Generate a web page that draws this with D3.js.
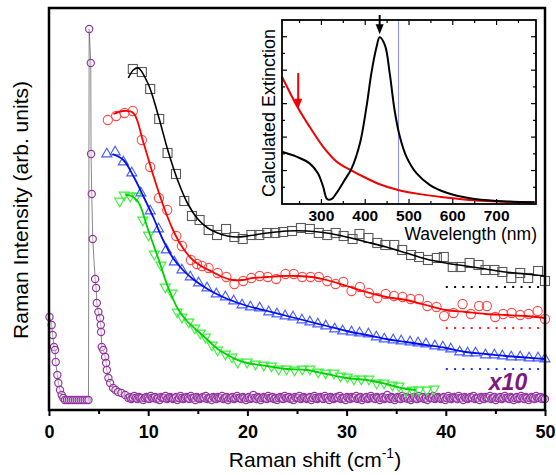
<!DOCTYPE html>
<html>
<head>
<meta charset="utf-8">
<script src="https://cdn.jsdelivr.net/npm/d3@7"></script>
<style>
body { margin: 0; background: #fff; }
svg { display: block; font-family: Arial, "Liberation Sans", sans-serif; }
</style>
</head>
<body>
<svg id="chart"></svg>
<script>
// main panel: Raman shift (cm-1) vs intensity (arb. units)
const xTicks = [0, 10, 20, 30, 40, 50];
const xMinorTicks = [5, 15, 25, 35, 45];

const blackX = [8.45, 9.36, 10.2, 11.11, 11.95, 12.8, 13.64, 14.41, 15.18, 16.09, 16.94, 17.85, 18.69, 19.53, 20.4, 21.2, 22.0, 22.8, 23.6, 24.5, 25.4, 26.3, 27.2, 28.05, 28.9, 29.7, 30.6, 31.3, 32.2, 33.1, 33.9, 34.8, 35.6, 36.5, 37.3, 38.2, 39.1, 39.8, 40.7, 41.5, 42.4, 43.3, 44.0, 44.9, 45.7, 46.6, 47.5, 48.3, 49.3, 50.0];
const blackY = [341, 338, 321, 291, 257, 236, 209, 194, 190, 180, 175, 181, 173, 171, 175, 175, 177, 177, 178, 179, 182, 181, 177, 175, 177, 174, 171, 176, 172, 167, 165, 165, 160, 155, 153, 150, 152, 153, 143, 143, 147, 145, 140, 140, 138, 132, 137, 132, 139, 129];
const blackFitX = [8.0, 8.5, 9.0, 10, 11, 12, 13, 14, 15, 16, 17, 18, 19, 20, 22, 24, 26, 28, 30, 32, 34, 36, 38, 40, 42, 44, 46, 48, 50];
const blackFitY = [332, 340, 342, 326, 295, 259, 229, 206, 191, 182, 177, 174, 173, 174, 177, 179, 179, 177, 173, 168, 163, 157, 151, 147, 144, 141, 138, 136, 134];

const redX = [5.93, 6.77, 7.61, 8.45, 9.36, 10.2, 11.08, 11.92, 12.83, 13.4, 14.31, 14.92, 15.42, 16.09, 17.0, 17.88, 18.69, 19.57, 20.4, 21.24, 22.05, 22.9, 23.84, 24.68, 25.52, 26.36, 27.2, 28.05, 28.89, 29.67, 30.5, 31.34, 32.25, 33.1, 33.94, 34.78, 35.63, 36.46, 37.3, 38.15, 39.06, 39.83, 40.78, 41.69, 42.53, 43.36, 44.14, 44.98, 45.79, 46.64, 47.5, 48.35, 49.26, 50.0];
const redY = [290, 294, 297, 299, 270, 243, 212, 200, 174, 164, 150, 146, 144, 142, 137, 133, 126, 129, 132, 134, 133, 131, 136, 136, 133, 133, 133, 129, 126, 128, 119, 123, 117, 112, 116, 114, 113, 111, 111, 104, 103, 94, 97, 106, 96, 104, 104, 93, 96, 97, 95, 96, 99, 91];
const redFitX = [6.5, 7.5, 8.5, 9.5, 10.5, 11.5, 12.5, 13.5, 14.5, 15.5, 16.5, 17.5, 18.5, 19.5, 20.5, 22, 23.5, 25, 26.5, 28, 30, 32, 34, 36, 38, 40, 42, 44, 46, 48, 50];
const redFitY = [296, 299, 297, 268, 235, 205, 180, 162, 150, 143, 138, 133, 130, 130, 132, 133, 134, 134, 133, 130, 124, 118, 113, 110, 105, 100, 98, 96, 95, 94, 92];

const blueX = [5.83, 6.67, 7.5, 8.35, 9.26, 10.2, 11.04, 11.82, 12.63, 13.4, 14.24, 15.08, 15.93, 16.87, 17.78, 18.62, 19.46, 20.3, 21.24, 22.15, 22.98, 23.8, 24.6, 25.5, 26.3, 27.1, 27.9, 28.8, 29.6, 30.5, 31.3, 32.2, 33.0, 33.8, 34.7, 35.5, 36.4, 37.2, 38.0, 38.9, 39.7, 40.5, 41.4, 42.2, 43.0, 44.0, 44.9, 45.7, 46.6, 47.5, 48.4, 49.3, 50.0];
const blueY = [256, 258, 248, 237, 217, 199, 181, 160, 148, 140, 133, 127, 122, 116, 113, 109, 105, 103, 102, 98, 96, 94, 93, 90, 88, 86, 84, 81, 79, 78, 77, 76, 73, 71, 70, 69, 68, 67, 66, 64, 63, 61, 58, 57, 57, 55, 55, 54, 53, 53, 52, 52, 51];
const blueFitX = [6.4, 7.5, 8.5, 9.5, 10.5, 11.5, 12.5, 13.5, 14.5, 15.5, 16.5, 18, 20, 22, 24, 26, 28, 30, 32, 34, 36, 38, 40, 42, 44, 46, 48, 50];
const blueFitY = [256, 250, 234, 214, 193, 170, 152, 140, 131, 124, 118, 111, 104, 99, 94, 89, 84, 79, 75, 71, 68, 65, 62, 58, 56, 54, 52.5, 51];

const greenX = [7.12, 7.58, 8.18, 8.79, 9.46, 10.03, 10.61, 11.28, 11.72, 12.39, 12.93, 13.4, 14.09, 14.7, 15.25, 15.76, 16.43, 17.0, 17.78, 18.45, 19.02, 19.97, 20.81, 21.65, 22.42, 23.16, 23.94, 24.75, 25.53, 26.29, 27.14, 27.88, 28.72, 29.39, 30.07, 30.74, 31.48, 32.25, 33.03, 33.77, 34.62, 35.28, 35.96, 36.64, 37.3, 38.08, 38.82];
const greenY = [209, 215, 214, 214, 190, 175, 156, 145, 123, 117, 98, 93, 88, 82, 77, 73, 65, 60, 56, 53, 48, 48, 46, 45, 44, 41, 41, 40, 41, 41, 38, 37, 37, 34, 33, 31, 31, 31, 27, 27, 25, 24, 19, 20, 20, 20, 21];
const greenFitX = [7.7, 8.3, 9, 10, 11, 12, 13, 14, 15, 16, 17, 18, 19, 20, 22, 24, 26, 28, 30, 32, 34, 36, 37];
const greenFitY = [215, 214, 208, 180, 152, 123, 101, 88, 79, 70, 61, 55, 50, 47, 44, 41, 40, 36, 32, 30, 26, 21, 20];

// x10 spectrum: laser line region, then the flat tail (spectrometer step 0.15 cm-1)
const purpleX = [0.05, 0.27, 0.37, 0.51, 0.61, 0.68, 0.84, 0.94, 1.11, 1.28, 1.44, 1.6, 1.8, 2.0, 2.2, 2.4, 2.6, 2.8, 3.0, 3.2, 3.4, 3.6, 3.8, 3.98, 4.05, 4.21, 4.24, 4.31, 4.41, 4.65, 4.75, 4.82, 4.98, 5.15, 5.22, 5.25, 5.32, 5.48, 5.66, 5.76, 5.83, 5.99, 6.16, 6.46, 6.7, 6.97, 7.3, 7.68];
const purpleY = [93, 85, 75, 63, 60, 48, 35, 27, 20, 15, 12, 10, 10, 10, 10, 10, 10, 10, 10, 10, 10, 10, 10, 10, 381, 347, 256, 216, 171, 131, 122, 107, 98, 92, 85, 78, 63, 60, 53, 47, 40, 32, 27, 22, 20, 18, 17, 15];
const purpleTailY = [
  12,13,11,12,14,12,11,13,12,12,10,12,13,12,11,14,12,12,13,11,
  12,10,13,12,12,14,11,12,13,12,11,12,13,10,12,14,12,11,12,13,
  12,11,14,12,12,10,13,12,11,12,13,12,14,11,12,12,10,13,12,11,
  13,12,12,14,11,12,13,10,12,12,13,11,12,14,12,12,11,13,12,10,
  12,13,11,12,15,12,11,13,12,10,12,13,12,11,14,12,12,13,11,12,
  10,12,13,12,11,14,12,12,13,11,12,10,13,12,12,14,11,12,13,12,
  11,12,13,10,12,14,12,11,12,13,12,11,14,12,12,10,13,12,11,12,
  13,12,14,11,12,12,10,13,12,11,13,12,12,14,11,12,13,10,12,12,
  13,11,12,14,12,12,11,13,12,10,12,13,11,12,15,12,11,13,12,10,
  12,13,12,11,14,12,12,13,11,12,10,12,13,12,11,14,12,12,13,11,
  12,10,13,12,12,14,11,12,13,12,11,12,13,10,12,14,12,11,12,13,
  12,11,14,12,12,10,13,12,11,12,13,12,14,11,12,12,10,13,12,11,
  13,12,12,14,11,12,13,10,12,12,13,11,12,14,12,12,11,13,12,10,
  12,13,11,12,14,12,11,13,12,10,12,13,12,11,14,12,12,13,11,12,
  11];
const purpleTailX = d3.range(purpleTailY.length).map(i => 8 + i * 0.15);

// zero levels of the offset spectra
const baseLevels = [123, 82, 41];
const baseColors = ["#000", "#ff2020", "#2030ff"];

// inset: calculated extinction vs wavelength (nm)
const insetTicks = [300, 400, 500, 600, 700];
const laserLine = 476;
const extBlackX = [210, 243, 273, 292, 304, 313, 323, 334, 353, 369, 388, 403, 414, 426, 433, 445, 456, 467, 479, 494, 517, 548, 586, 639, 700, 787];
const extBlackY = [0.312, 0.283, 0.243, 0.184, 0.103, 0.03, 0.029, 0.064, 0.143, 0.213, 0.363, 0.582, 0.781, 0.94, 0.997, 0.95, 0.781, 0.562, 0.403, 0.283, 0.184, 0.113, 0.067, 0.034, 0.018, 0.01];
const extRedX = [210, 247, 273, 304, 335, 366, 396, 433, 475, 525, 578, 639, 715, 787];
const extRedY = [0.761, 0.572, 0.462, 0.342, 0.253, 0.204, 0.163, 0.118, 0.084, 0.059, 0.04, 0.024, 0.014, 0.01];

const width = 556, height = 475;
const svg = d3.select("#chart").attr("width", width).attr("height", height);

const x = d3.scaleLinear().domain([0, 50]).range([49, 545]);
const y = d3.scaleLinear().domain([0, 402]).range([410, 8]);

const zip = (xs, ys) => xs.map((v, i) => [v, ys[i]]);
const line = d3.line().x(d => x(d[0])).y(d => y(d[1]));
const smooth = d3.line().x(d => x(d[0])).y(d => y(d[1])).curve(d3.curveCatmullRom.alpha(0.5));

const plot = svg.append("g");

// purple x10 spectrum
const purple = zip(purpleX, purpleY).concat(zip(purpleTailX, purpleTailY));
plot.append("path").datum(purple).attr("d", line)
  .attr("fill", "none").attr("stroke", "#555").attr("stroke-width", 0.7);
plot.append("g").selectAll("circle").data(purple).enter().append("circle")
  .attr("cx", d => x(d[0])).attr("cy", d => y(d[1])).attr("r", 3.6)
  .attr("fill", "#fff").attr("fill-opacity", 0.35)
  .attr("stroke", "#9436a0").attr("stroke-width", 1.2);

// dotted zero levels
plot.append("g").selectAll("line").data(baseLevels).enter().append("line")
  .attr("x1", x(40)).attr("x2", x(50))
  .attr("y1", d => y(d)).attr("y2", d => y(d))
  .attr("stroke", (_, i) => baseColors[i]).attr("stroke-width", 2)
  .attr("stroke-dasharray", "2,6.3");

// green
plot.append("g").selectAll("path").data(zip(greenX, greenY)).enter().append("path")
  .attr("d", d3.symbol(d3.symbolTriangle, 44))
  .attr("transform", d => `translate(${x(d[0])},${y(d[1])}) rotate(180)`)
  .attr("fill", "none").attr("stroke", "#3cf03c").attr("stroke-width", 1.1);
plot.append("path").datum(zip(greenFitX, greenFitY)).attr("d", smooth)
  .attr("fill", "none").attr("stroke", "#00d000").attr("stroke-width", 1.8);

// blue
plot.append("g").selectAll("path").data(zip(blueX, blueY)).enter().append("path")
  .attr("d", d3.symbol(d3.symbolTriangle, 44))
  .attr("transform", d => `translate(${x(d[0])},${y(d[1])})`)
  .attr("fill", "none").attr("stroke", "#4a5cff").attr("stroke-width", 1.1);
plot.append("path").datum(zip(blueFitX, blueFitY)).attr("d", smooth)
  .attr("fill", "none").attr("stroke", "#0010f0").attr("stroke-width", 1.8);

// red
plot.append("g").selectAll("circle").data(zip(redX, redY)).enter().append("circle")
  .attr("cx", d => x(d[0])).attr("cy", d => y(d[1])).attr("r", 4.6)
  .attr("fill", "none").attr("stroke", "#ff4a4a").attr("stroke-width", 1.1);
plot.append("path").datum(zip(redFitX, redFitY)).attr("d", smooth)
  .attr("fill", "none").attr("stroke", "#ff0000").attr("stroke-width", 1.8);

// black
plot.append("g").selectAll("rect").data(zip(blackX, blackY)).enter().append("rect")
  .attr("x", d => x(d[0]) - 4.5).attr("y", d => y(d[1]) - 4.5)
  .attr("width", 9).attr("height", 9)
  .attr("fill", "none").attr("stroke", "#5a5a5a").attr("stroke-width", 1.1);
plot.append("path").datum(zip(blackFitX, blackFitY)).attr("d", smooth)
  .attr("fill", "none").attr("stroke", "#000").attr("stroke-width", 1.6);

svg.append("text").text("x10")
  .attr("x", 508).attr("y", 390).attr("text-anchor", "middle")
  .attr("fill", "#7d1a7d").style("font-size", "23px")
  .style("font-weight", "bold").style("font-style", "italic");

// main axes
const xAxis = svg.append("g").attr("transform", "translate(0,410)")
  .call(d3.axisBottom(x).tickValues(xTicks).tickSize(6).tickPadding(9).tickFormat(d3.format("d")));
xAxis.select(".domain").remove();
xAxis.selectAll("line").attr("stroke-width", 2);
xAxis.selectAll("text").attr("fill", "#000").style("font-size", "18px").style("font-weight", "bold")
  .style("font-family", "Arial, 'Liberation Sans', sans-serif");
const xMinor = svg.append("g").attr("transform", "translate(0,410)")
  .call(d3.axisBottom(x).tickValues(xMinorTicks).tickSize(4).tickFormat(""));
xMinor.select(".domain").remove();
xMinor.selectAll("line").attr("stroke-width", 2);

svg.append("rect")
  .attr("x", x(0)).attr("y", y(402)).attr("width", x(50) - x(0)).attr("height", y(0) - y(402))
  .attr("fill", "none").attr("stroke", "#000").attr("stroke-width", 2.5);

svg.append("text")
  .attr("x", 315).attr("y", 467).attr("text-anchor", "middle").style("font-size", "21px")
  .call(t => {
    t.append("tspan").text("Raman shift (cm");
    t.append("tspan").text("-1").attr("dy", -9).style("font-size", "14px");
    t.append("tspan").text(")").attr("dy", 9);
  });
svg.append("text").text("Raman Intensity (arb. units)")
  .attr("transform", "translate(28,210) rotate(-90)")
  .attr("text-anchor", "middle").style("font-size", "21px");

// inset
const xi = d3.scaleLinear().domain([210, 790]).range([282, 536]);
const yi = d3.scaleLinear().domain([0, 1.1]).range([204, 20]);
const lineI = d3.line().x(d => xi(d[0])).y(d => yi(d[1])).curve(d3.curveCatmullRom.alpha(0.5));

const inset = svg.append("g");
inset.append("rect").attr("x", 282).attr("y", 20).attr("width", 254).attr("height", 184)
  .attr("fill", "#fff");

inset.append("line").attr("x1", xi(laserLine)).attr("x2", xi(laserLine))
  .attr("y1", yi(1.1)).attr("y2", yi(0)).attr("stroke", "#8c8cff").attr("stroke-width", 1);

inset.append("path").datum(zip(extRedX, extRedY)).attr("d", lineI)
  .attr("fill", "none").attr("stroke", "#f00000").attr("stroke-width", 2);
inset.append("path").datum(zip(extBlackX, extBlackY)).attr("d", lineI)
  .attr("fill", "none").attr("stroke", "#000").attr("stroke-width", 2);

// arrows marking the excitation resonance
const arrow = (g, px, y0, y1, color) => {
  g.append("line").attr("x1", px).attr("x2", px).attr("y1", y0).attr("y2", y1 - 8)
    .attr("stroke", color).attr("stroke-width", 2);
  g.append("path").attr("d", `M${px - 4},${y1 - 10}L${px + 4},${y1 - 10}L${px},${y1}Z`).attr("fill", color);
};
arrow(inset, xi(247), yi(0.783), yi(0.57), "#f00000");
arrow(inset, xi(433), yi(1.13), yi(1.015), "#000");

const iTicksX = d3.range(250, 751, 50);
const iTicksY = d3.range(0.1, 1.05, 0.1);
const tickLen = (v, step) => (Math.round(v / step) % 2 === 0 ? 5 : 3);
inset.append("g").selectAll("line").data(iTicksX).enter().append("line")
  .attr("x1", d => xi(d)).attr("x2", d => xi(d)).attr("y1", 20).attr("y2", d => 20 + tickLen(d, 50))
  .attr("stroke", "#000").attr("stroke-width", 1.2);
inset.append("g").selectAll("line").data(iTicksX).enter().append("line")
  .attr("x1", d => xi(d)).attr("x2", d => xi(d)).attr("y1", 204).attr("y2", d => 204 - tickLen(d, 50))
  .attr("stroke", "#000").attr("stroke-width", 1.2);
inset.append("g").selectAll("line").data(iTicksY).enter().append("line")
  .attr("x1", 282).attr("x2", d => 282 + tickLen(d, 0.1)).attr("y1", d => yi(d)).attr("y2", d => yi(d))
  .attr("stroke", "#000").attr("stroke-width", 1.2);
inset.append("g").selectAll("line").data(iTicksY).enter().append("line")
  .attr("x1", 536).attr("x2", d => 536 - tickLen(d, 0.1)).attr("y1", d => yi(d)).attr("y2", d => yi(d))
  .attr("stroke", "#000").attr("stroke-width", 1.2);

inset.append("rect").attr("x", 282).attr("y", 20).attr("width", 254).attr("height", 184)
  .attr("fill", "none").attr("stroke", "#000").attr("stroke-width", 1.8);

inset.append("g").selectAll("text").data(insetTicks).enter().append("text")
  .text(d => d).attr("x", d => xi(d)).attr("y", 221).attr("text-anchor", "middle")
  .style("font-size", "15.5px").style("font-weight", "bold");
inset.append("text").text("Wavelength (nm)")
  .attr("x", 537).attr("y", 240).attr("text-anchor", "end").style("font-size", "17.5px");
inset.append("text").text("Calculated Extinction")
  .attr("transform", "translate(275,113) rotate(-90)")
  .attr("text-anchor", "middle").style("font-size", "18px");
</script>
</body>
</html>
